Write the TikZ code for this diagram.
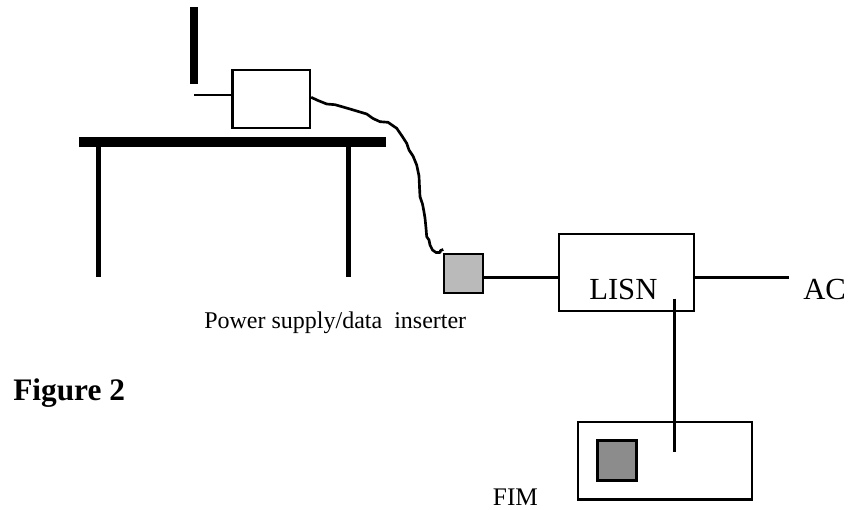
\documentclass[tikz,border=0pt]{standalone}
\usepackage{fontspec}
\setmainfont{Liberation Serif}
\tikzset{
  pbox/.style={draw=black,line width=1.7pt,fill=white,minimum width=0pt,minimum height=0pt,inner sep=0pt},
  wire/.style={draw=black,line width=1.8pt},
  bar/.style={fill=black,draw=none},
  lbl/.style={inner sep=0pt,anchor=base west}
}
\begin{document}
\begin{tikzpicture}[x=0.75pt,y=-0.75pt]
\useasboundingbox (0,0) rectangle (853,510);
\fill[bar] (190,7) rectangle (198,84);
\fill[bar] (79,136.5) rectangle (386,147);
\fill[bar] (96,147) rectangle (101.3,276.5);
\fill[bar] (345.7,147) rectangle (350.5,276.5);
\coordinate (wireend) at (194,95);
\node[pbox,minimum width=58.2pt,minimum height=43.5pt] (camera) at (271.2,99) {};
\draw[wire] (wireend) -- (camera.west |- wireend);
\node[pbox,fill=black!27,minimum width=29.2pt,minimum height=29.2pt] (inserter) at (463.2,273.2) {};
\draw[line width=2pt,line join=round] (camera.east |- 0,97.3) -- (318,100.5) -- (326.7,104) -- (335,104.7) -- (350,109) -- (366.7,114) -- (373,118.5) -- (380,121.7) -- (388,122.3) -- (396.7,128.3) -- (402,136) -- (406.7,143.3) -- (409,150) -- (413,156) -- (416.7,165) -- (419,176) -- (419.5,187) -- (420,196.7) -- (422.5,204) -- (424,212) -- (425,218) -- (426,228) -- (426.7,236.7) -- (429,240) -- (430,245) -- (432.5,250) -- (436,252.5) -- (440,252.5) -- (440.5,250.5) -- (443.3,249.5);
\node[pbox,minimum width=101.2pt,minimum height=57.7pt] (lisn) at (626.5,272.8) {};
\node[lbl,font=\fontsize{23pt}{25pt}\selectfont] (lisntext) at (589,299) {LISN};
\node[lbl,font=\fontsize{23pt}{25pt}\selectfont] (ac) at (803,299) {AC};
\coordinate (acend) at (789,277.5);
\draw[wire] (inserter.east |- acend) -- (lisn.west |- acend);
\draw[wire] (lisn.east |- acend) -- (acend);
\node[pbox,minimum width=130.5pt,minimum height=58.2pt] (fim) at (665,460.8) {};
\node[pbox,fill=black!45,line width=2.2pt,minimum width=29.5pt,minimum height=29.5pt] (meter) at (617,460.6) {};
\coordinate (ptop) at (674.3,298.7);
\coordinate (pbot) at (674.3,451.7);
\draw[wire] (ptop) -- (pbot);
\node[lbl,font=\fontsize{18pt}{20pt}\selectfont] (pslabel) at (204,328) {Power supply/data\ \ inserter};
\node[lbl,font=\bfseries\fontsize{23.5pt}{26pt}\selectfont] (figlabel) at (13,400.7) {Figure 2};
\node[lbl,font=\fontsize{19pt}{21pt}\selectfont] (fimlabel) at (492.7,505.7) {FIM};
\end{tikzpicture}
\end{document}
